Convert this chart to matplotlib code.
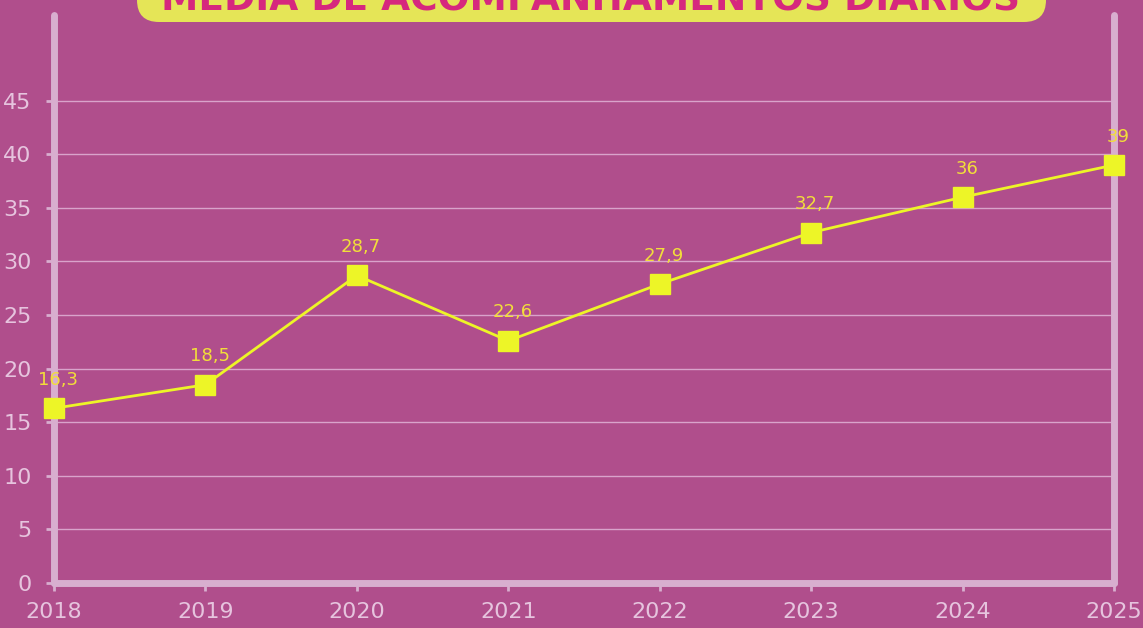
import matplotlib.pyplot as plt
from matplotlib.patches import FancyBboxPatch

years = [2018, 2019, 2020, 2021, 2022, 2023, 2024, 2025]
values = [16.3, 18.5, 28.7, 22.6, 27.9, 32.7, 36, 39]
labels = ["16,3", "18,5", "28,7", "22,6", "27,9", "32,7", "36", "39"]
yticks = [0, 5, 10, 15, 20, 25, 30, 35, 40, 45]
title = "MÉDIA DE ACOMPANHAMENTOS DIÁRIOS"

bg = "#B04E8C"
pale = "#D8AECF"
yellow = "#EDF527"

fig = plt.figure(figsize=(11.43, 6.28), dpi=100, facecolor=bg)
ax = fig.add_axes([54 / 1143, 45 / 628, 1060 / 1143, 568 / 628])
ax.set_facecolor(bg)

ax.plot(years, values, color=yellow, lw=2, marker="s", ms=14,
        mfc=yellow, mec=yellow, zorder=5, clip_on=False)
for x, y, t in zip(years, values, labels):
    ax.annotate(t, (x, y), xytext=(3, 14), textcoords="offset points",
                ha="center", va="bottom", color="#F2DE3A", fontsize=13)

ax.set_xlim(2018, 2025)
ax.set_ylim(0, 53)
ax.set_xticks(years)
ax.set_yticks(yticks)
ax.grid(axis="y", color="#D9A3CB", lw=1)
ax.set_axisbelow(True)

for s in ["left", "bottom", "right"]:
    ax.spines[s].set_color(pale)
    ax.spines[s].set_linewidth(5)
    ax.spines[s].set_capstyle("round")
ax.spines["top"].set_visible(False)

ax.tick_params(axis="both", colors=pale, labelcolor="#E6C4DE", labelsize=16,
               length=6, width=2)
ax.tick_params(axis="y", pad=10)
ax.tick_params(axis="x", pad=8)

# title banner, partly off the top edge as in the original
box = FancyBboxPatch((137, 606), 909, 60, boxstyle="round,pad=0,rounding_size=22",
                     transform=None, facecolor="#E5E557", edgecolor="none")
fig.patches.append(box)
fig.text(591 / 1143, 610 / 628, title, ha="center", va="bottom",
         color="#D6287E", fontsize=27, fontweight="bold")

fig.savefig("out.png", dpi=100, facecolor=bg)
